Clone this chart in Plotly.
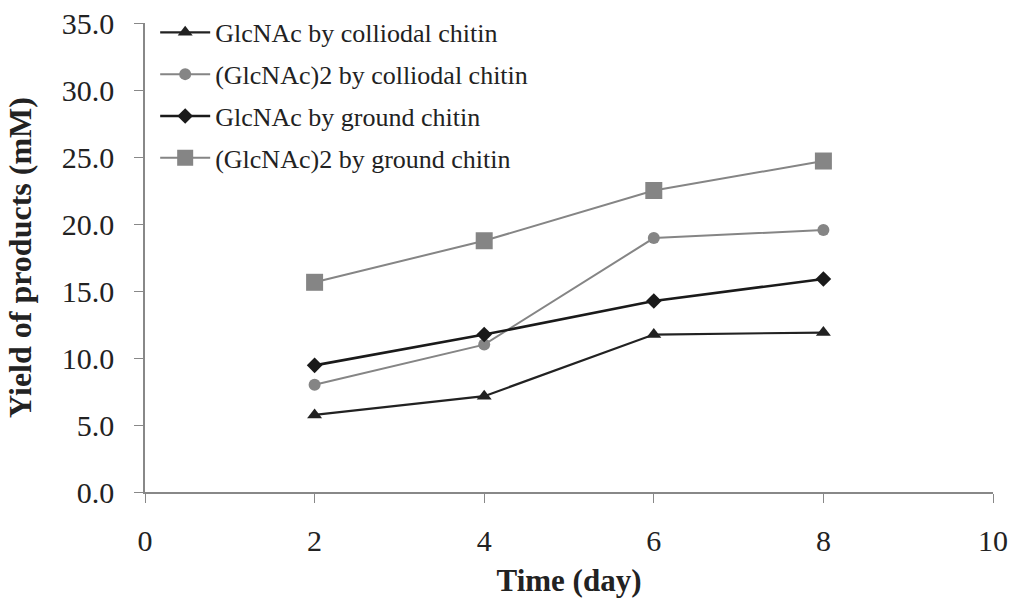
import plotly.graph_objects as go

days = [2, 4, 6, 8]
glcnac_colloidal = [5.75, 7.15, 11.75, 11.9]
glcnac2_colloidal = [8.0, 11.0, 18.95, 19.55]
glcnac_ground = [9.45, 11.75, 14.25, 15.9]
glcnac2_ground = [15.65, 18.75, 22.5, 24.7]

names = ["GlcNAc by colliodal chitin", "(GlcNAc)2 by colliodal chitin",
         "GlcNAc by ground chitin", "(GlcNAc)2 by ground chitin"]
series = [glcnac_colloidal, glcnac2_colloidal, glcnac_ground, glcnac2_ground]
colors = ["#222222", "#858585", "#1a1a1a", "#858585"]
symbols = ["triangle-up", "circle", "diamond", "square"]
sizes = [13, 12, 12, 17]
widths = [2.2, 2, 2.6, 2]

fig = go.Figure()
for i, (n, s, c, sym, sz, w) in enumerate(zip(names, series, colors, symbols, sizes, widths)):
    fig.add_trace(go.Scatter(x=days, y=s, name=n, mode="lines+markers",
                             legendgroup=f"g{i}",
                             line=dict(color=c, width=w),
                             marker=dict(symbol=sym, size=sz, color=c)))

font = "Liberation Serif, Times New Roman, serif"
fig.update_layout(
    width=1011, height=606,
    margin=dict(l=145, r=18, t=23, b=114, autoexpand=False),
    paper_bgcolor="white", plot_bgcolor="white",
    font=dict(family=font, color="#222222", size=22),
    legend=dict(x=0.012, y=1.03, xanchor="left", yanchor="top",
                font=dict(family=font, size=26, color="#222222"),
                bgcolor="rgba(0,0,0,0)", tracegroupgap=5, itemwidth=50),
    xaxis=dict(range=[0, 10], tickvals=[0, 2, 4, 6, 8, 10],
               showline=True, linecolor="#888888", linewidth=1.5,
               ticks="outside", ticklen=9, tickcolor="#888888",
               showgrid=False, zeroline=False, automargin=False,
               ticklabelstandoff=12,
               tickfont=dict(family=font, size=30, color="#222222"),
               title=dict(text="<b>Time (day)</b>", standoff=14,
                          font=dict(family=font, size=31, color="#222222"))),
    yaxis=dict(range=[0, 35], tickvals=[0, 5, 10, 15, 20, 25, 30, 35],
               tickformat=".1f",
               showline=True, linecolor="#888888", linewidth=1.5,
               ticks="outside", ticklen=9, tickcolor="#888888",
               showgrid=False, zeroline=False, automargin=False,
               ticklabelstandoff=14,
               tickfont=dict(family=font, size=30, color="#222222"),
               title=dict(text="<b>Yield of products (mM)</b>", standoff=21,
                          font=dict(family=font, size=32, color="#222222"))),
)

fig.write_html("out.html")
